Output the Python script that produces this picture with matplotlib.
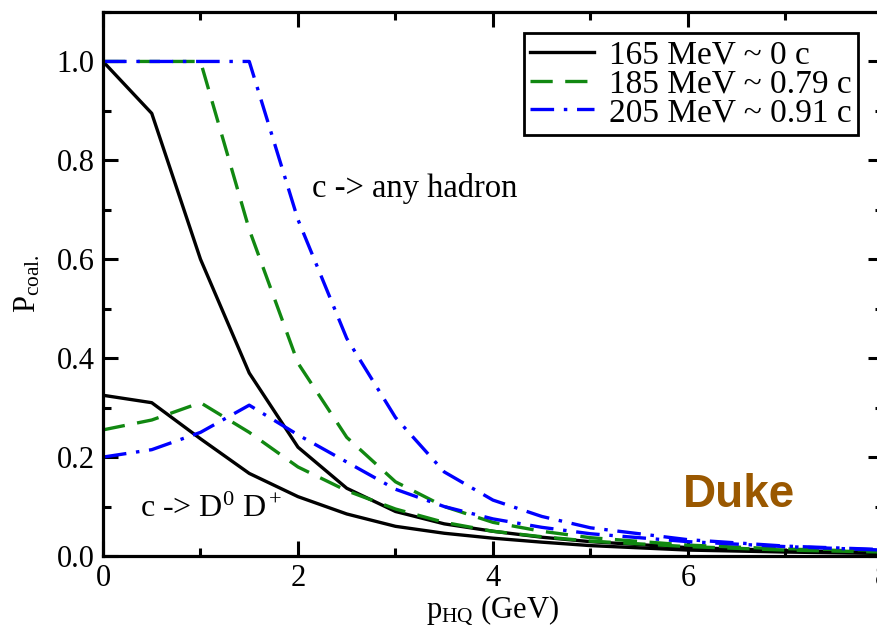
import matplotlib
matplotlib.use("Agg")
import matplotlib.pyplot as plt
from matplotlib.ticker import MultipleLocator

# --- data ---
p_hq = [0, 0.5, 1.0, 1.5, 2.0, 2.5, 3.0, 3.5, 4.0, 4.5, 5.0, 6.0, 7.0, 8.0]

any_165 = [1.0, 0.895, 0.60, 0.37, 0.22, 0.137, 0.09, 0.065, 0.05, 0.038, 0.029, 0.017, 0.011, 0.007]
any_185 = [1.0, 1.0, 1.0, 0.66, 0.39, 0.24, 0.15, 0.10, 0.068, 0.05, 0.037, 0.022, 0.014, 0.009]
any_205 = [1.0, 1.0, 1.0, 1.0, 0.68, 0.44, 0.28, 0.17, 0.113, 0.08, 0.057, 0.033, 0.02, 0.013]

dd_165 = [0.325, 0.31, 0.237, 0.167, 0.12, 0.085, 0.06, 0.046, 0.036, 0.028, 0.021, 0.012, 0.008, 0.005]
dd_185 = [0.255, 0.275, 0.31, 0.25, 0.18, 0.132, 0.095, 0.068, 0.05, 0.039, 0.03, 0.019, 0.012, 0.008]
dd_205 = [0.2, 0.215, 0.25, 0.305, 0.245, 0.19, 0.135, 0.1, 0.075, 0.058, 0.045, 0.029, 0.019, 0.012]

labels = ["165 MeV ~ 0 c", "185 MeV ~ 0.79 c", "205 MeV ~ 0.91 c"]

GREEN, BLUE, BROWN = "#118811", "#0000ff", "#9a5800"
LW = 2.4

plt.rcParams["font.family"] = ["Liberation Serif", "DejaVu Serif"]
plt.rcParams["mathtext.fontset"] = "custom"
plt.rcParams["mathtext.rm"] = "Liberation Serif"
plt.rcParams["mathtext.it"] = "Liberation Serif:italic"
plt.rcParams["lines.scale_dashes"] = False

fig = plt.figure(figsize=(8.78, 6.36), dpi=100)
# right spine sits just past the picture's edge, as in the reference crop
ax = fig.add_axes([103 / 878, 80 / 636, 780 / 878, 544 / 636])

styles = [
    dict(color="black", ls="-"),
    dict(color=GREEN, dashes=(16, 9)),
    dict(color=BLUE, dashes=(17, 7, 2.5, 7)),
]
for ys, st, lab in zip([any_165, any_185, any_205], styles, labels):
    ax.plot(p_hq, ys, lw=LW, label=lab, **st)
for ys, st in zip([dd_165, dd_185, dd_205], styles):
    ax.plot(p_hq, ys, lw=LW, **st)

ax.set_xlim(0, 8)
ax.set_ylim(0, 1.1)
ax.xaxis.set_major_locator(MultipleLocator(2))
ax.xaxis.set_minor_locator(MultipleLocator(1))
ax.yaxis.set_major_locator(MultipleLocator(0.2))
ax.yaxis.set_minor_locator(MultipleLocator(0.1))
ax.xaxis.set_major_formatter(lambda v, pos: f"{v:.0f}")
ax.yaxis.set_major_formatter(lambda v, pos: f"{v:.1f}")
ax.tick_params(which="both", direction="in", top=True, right=True,
               width=2.2, labelsize=22, pad=6)
ax.tick_params(which="major", length=11)
ax.tick_params(which="minor", length=6)
for s in ax.spines.values():
    s.set_linewidth(2.3)

ax.set_xlabel(r"p$_\mathrm{HQ}$ (GeV)", fontsize=22, labelpad=0)
ax.set_ylabel(r"P$_\mathrm{coal.}$", fontsize=22, labelpad=10)

ax.text(2.14, 0.725, "c -> any hadron", fontsize=23.5, va="baseline")
ax.text(0.38, 0.078, r"c -> D$^0$ D$^+$", fontsize=23, va="baseline")
ax.text(5.95, 0.099, "Duke", fontsize=33, fontweight="bold", color=BROWN,
        family="Liberation Sans", va="baseline")

leg = ax.legend(loc="upper right", bbox_to_anchor=(0.968, 0.961), borderaxespad=0,
                fontsize=24, handlelength=1.9, handletextpad=0.45,
                labelspacing=-0.05, borderpad=0.2, fancybox=False, framealpha=1)
leg.get_frame().set_edgecolor("black")
leg.get_frame().set_linewidth(2.0)

fig.savefig("out.png", dpi=100)
